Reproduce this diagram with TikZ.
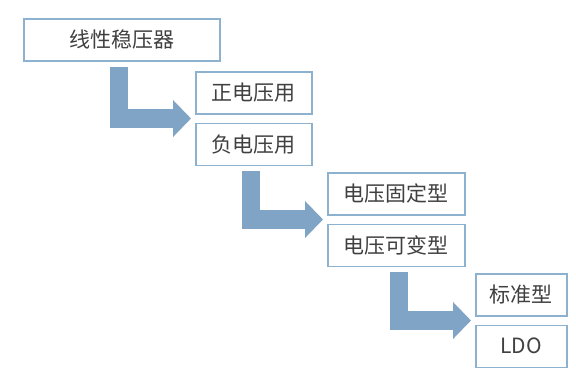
\documentclass[tikz,border=0pt]{standalone}
\usepackage{fontspec}
\setmainfont{Noto Sans CJK SC}
\usepackage{xcolor}
\usetikzlibrary{positioning,calc,arrows.meta}
\definecolor{boxline}{RGB}{140,178,208}
\definecolor{arrowfill}{RGB}{128,164,198}
\definecolor{txtgray}{RGB}{64,64,64}

\begin{document}
\begin{tikzpicture}[x=1bp, y=-1bp,
    node distance=8bp,
    box/.style={rectangle, draw=boxline, line width=1.5bp, fill=white, minimum height=42bp, inner sep=0pt, text=txtgray, font=\fontsize{21bp}{25bp}\selectfont, anchor=north west},
    bigarrow/.style={draw=arrowfill, line width=18.5bp, -{Triangle[width=36bp, length=18bp]}}]
  \useasboundingbox[fill=white] (0,0) rectangle (576,376);
  \node[box, minimum width=196bp] (lin) at (23,18) {线性稳压器};
  \node[box, minimum width=116bp] (pos) at (195,71) {正电压用};
  \node[box, minimum width=116bp, below=of pos] (neg) {负电压用};
  \node[box, minimum width=137bp] (fix) at (327,172) {电压固定型};
  \node[box, minimum width=137bp, below=of fix] (var) {电压可变型};
  \node[box, minimum width=91bp] (std) at (475,273) {标准型};
  \node[box, minimum width=91bp, below=of std] (ldo) {LDO};
  % arrow tips sit in the gap between each pair
  \coordinate (tip1) at ($(pos.south west)!.5!(neg.north west)+(-4bp,0)$);
  \coordinate (tip2) at ($(fix.south west)!.5!(var.north west)+(-4bp,0)$);
  \coordinate (tip3) at ($(std.south west)!.5!(ldo.north west)+(-4bp,0)$);
  \draw[bigarrow] ($(lin.south -| tip1)+(-72bp,-5bp)$) |- (tip1);
  \draw[bigarrow] ($(neg.south -| tip2)+(-72bp,-5bp)$) |- (tip2);
  \draw[bigarrow] ($(var.south -| tip3)+(-72bp,-5bp)$) |- (tip3);
\end{tikzpicture}
\end{document}
